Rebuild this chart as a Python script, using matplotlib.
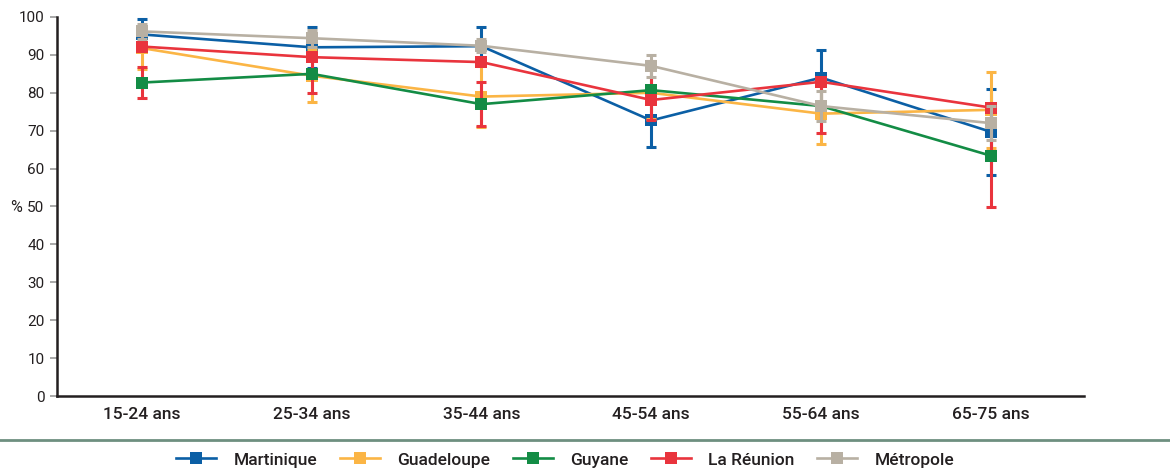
import matplotlib.pyplot as plt
import numpy as np
from matplotlib import font_manager
from matplotlib.lines import Line2D

# age groups and survey shares (%), with lower / upper confidence bounds
age_groups = ["15-24 ans", "25-34 ans", "35-44 ans", "45-54 ans", "55-64 ans", "65-75 ans"]
series_names = ["Martinique", "Guadeloupe", "Guyane", "La Réunion", "Métropole"]

martinique = [95.4, 92.0, 92.3, 72.7, 84.0, 69.7]
martinique_err = [4.0, 5.4, 5.0, 7.0, 7.3, 11.4]

guadeloupe = [91.8, 84.5, 79.0, 80.0, 74.5, 75.5]
guadeloupe_err = [5.5, 7.0, 8.0, 7.0, 8.0, 10.0]

guyane = [82.7, 85.0, 77.0, 80.7, 76.5, 63.4]
guyane_err = [4.1, 5.0, 5.8, 7.8, 7.0, 13.5]

reunion = [92.2, 89.4, 88.1, 78.1, 82.9, 76.1]

metropole = [96.2, 94.4, 92.4, 87.1, 76.5, 72.0]
metropole_err = [2.0, 2.2, 1.7, 3.0, 4.0, 4.5]

colors = {
    "Martinique": "#0b5fa5",
    "Guadeloupe": "#fbb545",
    "Guyane": "#138c45",
    "La Réunion": "#e9343d",
    "Métropole": "#b8b0a3",
}

# pick a narrow face if one is installed
available = {f.name for f in font_manager.fontManager.ttflist}
if "Liberation Sans Narrow" in available:
    base_font = ["Liberation Sans Narrow", "DejaVu Sans"]
else:
    base_font = ["Roboto", "DejaVu Sans"]
plt.rcParams["font.family"] = base_font

fig = plt.figure(figsize=(11.7, 4.72), dpi=100)
ax = fig.add_axes([0.0487, 0.161, 0.878, 0.803])

x = np.arange(len(age_groups))
text_color = "#231f20"
lw = 1.9
ms = 8
cap = 3.6


def draw(values, name, err=None, err_color=None, z=2):
    c = colors[name]
    if err is not None:
        ax.errorbar(x, values, yerr=err, fmt="none", ecolor=err_color or c,
                    elinewidth=2.2, capsize=cap, capthick=2.2, zorder=z)
    ax.plot(x, values, color=c, lw=lw, marker="s", markersize=ms,
            markeredgewidth=0, zorder=z + 0.5)


draw(martinique, "Martinique", martinique_err, z=2)
draw(guadeloupe, "Guadeloupe", guadeloupe_err, z=3)
# Guyane bars are printed in the Réunion red in the source figure
draw(guyane, "Guyane", guyane_err, err_color=colors["La Réunion"], z=4)
draw(reunion, "La Réunion", z=5)
draw(metropole, "Métropole", metropole_err, z=6)

ax.set_xlim(-0.5, 5.55)
ax.set_ylim(0, 100)
ax.set_yticks(np.arange(0, 101, 10))
ax.set_xticks(x)
ax.set_xticklabels(age_groups, fontsize=12.5, color=text_color, fontweight="medium")
ax.tick_params(axis="x", length=0, pad=8)
ax.tick_params(axis="y", length=5, width=1.2, color="#9a9a9a", labelsize=11,
               labelcolor=text_color, pad=4)
for side in ("top", "right"):
    ax.spines[side].set_visible(False)
for side in ("left", "bottom"):
    ax.spines[side].set_color(text_color)
    ax.spines[side].set_linewidth(1.8)

fig.text(16 / 1170, 1 - 207 / 472, "%", fontsize=11.5, color=text_color,
         ha="center", va="center")

# separator rule above the legend
fig.add_artist(Line2D([0, 1], [1 - 440 / 472, 1 - 440 / 472], color="#6e8f80",
                      lw=2.0, transform=fig.transFigure))

handles = [Line2D([], [], color=colors[n], lw=lw, marker="s", markersize=ms,
                  markeredgewidth=0) for n in series_names]
fig.legend(handles, series_names, loc="center", bbox_to_anchor=(0.483, 1 - 460 / 472),
           ncol=5, frameon=False, fontsize=12.5, handlelength=2.3,
           columnspacing=1.3, handletextpad=1.0, labelcolor=text_color,
           prop={"weight": "medium", "size": 12.5})

fig.savefig("out.png", dpi=100)
